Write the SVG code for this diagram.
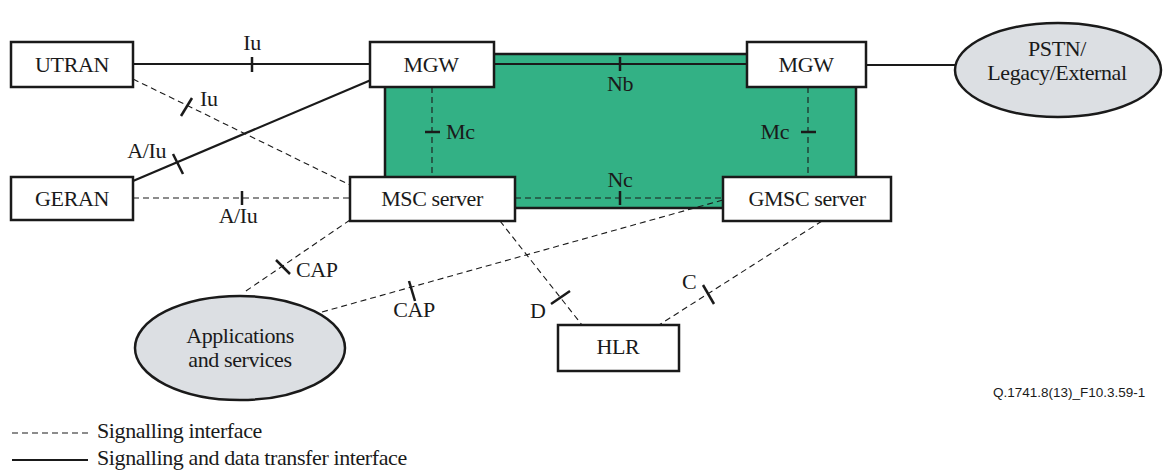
<svg xmlns="http://www.w3.org/2000/svg" width="1163" height="470" viewBox="0 0 1163 470">
<style>
text{font-family:"Liberation Serif","Times New Roman",serif;font-size:22px;letter-spacing:-0.4px;fill:#1a1a1a}
.c{text-anchor:middle}
.e{text-anchor:end}
.box{fill:#fff;stroke:#1a1a1a;stroke-width:2.5}
.ell{fill:#dcdfe3;stroke:#1a1a1a;stroke-width:2.5}
.sol{stroke:#1a1a1a;stroke-width:2.2;fill:none}
.das{stroke:#1a1a1a;stroke-width:1.1;stroke-dasharray:6,4;fill:none}
.tick{stroke:#1a1a1a;stroke-width:2.5;fill:none}
.fig{font-family:"Liberation Sans",Arial,sans-serif;font-size:13.5px;letter-spacing:0}
</style>
<rect id="core" x="385" y="54" width="471" height="154" fill="#33b185" stroke="#1a1a1a" stroke-width="2.5"/>
<g id="connectors">
<line class="sol" x1="133" y1="64" x2="370" y2="64"/>
<line class="tick" x1="252" y1="57" x2="252" y2="72"/>
<text class="c" x="252" y="50">Iu</text>
<line class="das" x1="133" y1="79" x2="350" y2="185"/>
<line class="tick" x1="181" y1="116" x2="192" y2="98"/>
<text x="200" y="106">Iu</text>
<line class="sol" x1="133" y1="181" x2="371" y2="80"/>
<line class="tick" x1="173" y1="154" x2="183" y2="174"/>
<text class="e" x="166" y="158">A/Iu</text>
<line class="das" x1="133" y1="198" x2="350" y2="198"/>
<line class="tick" x1="242" y1="191" x2="242" y2="205"/>
<text class="c" x="238" y="223">A/Iu</text>
<line class="sol" x1="494" y1="64" x2="747" y2="64"/>
<line class="tick" x1="620" y1="57" x2="620" y2="71"/>
<text class="c" x="620" y="91">Nb</text>
<line class="sol" x1="866" y1="65" x2="956" y2="65"/>
<line class="das" x1="432" y1="87" x2="432" y2="177"/>
<line class="tick" x1="425" y1="132" x2="440" y2="132"/>
<text x="446" y="139">Mc</text>
<line class="das" x1="808" y1="87" x2="808" y2="177"/>
<line class="tick" x1="801" y1="132" x2="816" y2="132"/>
<text class="e" x="789" y="139">Mc</text>
<line class="das" x1="515" y1="198" x2="723" y2="198"/>
<line class="tick" x1="620" y1="191" x2="620" y2="205"/>
<text class="c" x="620" y="187">Nc</text>
<line class="das" x1="350" y1="220" x2="243" y2="293"/>
<line class="tick" x1="276" y1="260" x2="290" y2="274"/>
<text x="296" y="277">CAP</text>
<line class="das" x1="322" y1="312" x2="723" y2="200"/>
<line class="tick" x1="409" y1="281" x2="415" y2="301"/>
<text class="c" x="414" y="317">CAP</text>
<line class="das" x1="500" y1="221" x2="582" y2="325"/>
<line class="tick" x1="551" y1="304" x2="570" y2="291"/>
<text x="530" y="318">D</text>
<line class="das" x1="822" y1="221" x2="659" y2="325"/>
<line class="tick" x1="703" y1="285" x2="714" y2="304"/>
<text x="682" y="289">C</text>
</g>
<g id="utran"><rect class="box" x="11" y="42" width="122" height="45"/><text class="c" x="72" y="72">UTRAN</text></g>
<g id="geran"><rect class="box" x="11" y="177" width="122" height="43"/><text class="c" x="72" y="206">GERAN</text></g>
<g id="mgw1"><rect class="box" x="370" y="42" width="124" height="45"/><text class="c" x="431" y="72">MGW</text></g>
<g id="mgw2"><rect class="box" x="747" y="42" width="119" height="45"/><text class="c" x="806" y="72">MGW</text></g>
<g id="msc"><rect class="box" x="350" y="177" width="165" height="44"/><text class="c" x="432" y="206">MSC server</text></g>
<g id="gmsc"><rect class="box" x="723" y="177" width="168" height="44"/><text class="c" x="807" y="206">GMSC server</text></g>
<g id="hlr"><rect class="box" x="558" y="325" width="121" height="46"/><text class="c" x="618" y="354">HLR</text></g>
<g id="pstn"><ellipse class="ell" cx="1058" cy="70" rx="103" ry="47"/><text class="c" x="1057" y="56">PSTN/</text><text class="c" x="1057" y="80">Legacy/External</text></g>
<g id="apps"><ellipse class="ell" cx="240" cy="348" rx="105" ry="52"/><text class="c" x="240" y="343">Applications</text><text class="c" x="240" y="367">and services</text></g>
<text class="fig" x="993" y="397">Q.1741.8(13)_F10.3.59-1</text>
<g id="legend">
<line class="das" x1="12" y1="433" x2="90" y2="433" stroke-dasharray="5,3"/>
<text x="97" y="438">Signalling interface</text>
<line class="sol" x1="12" y1="460" x2="88" y2="460" stroke-width="2.5"/>
<text x="97" y="465">Signalling and data transfer interface</text>
</g>
</svg>
